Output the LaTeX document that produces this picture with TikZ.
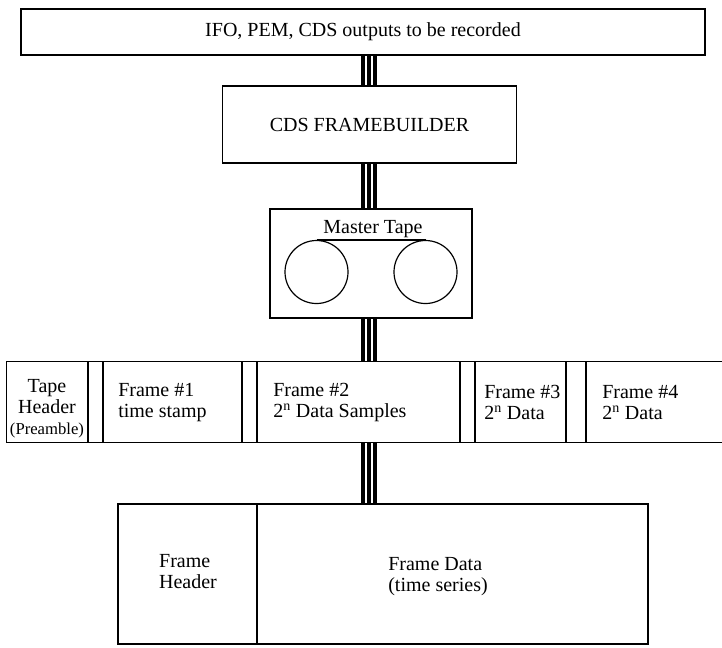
\documentclass[tikz,border=0pt]{standalone}
\usepackage{fontspec}
\setmainfont{Liberation Serif}
\begin{document}
\begin{tikzpicture}[x=0.75pt,y=-0.75pt,
  box/.style={draw, line width=1.1pt, inner sep=0pt},
  wire/.style={line width=2.3pt},
  lbl/.style={inner sep=0pt, font=\fontsize{15}{15.75}\selectfont},
  reel/.style={draw, circle, line width=0.9pt, inner sep=0pt, minimum size=63*0.75pt},
  edge/.style={line width=1.1pt}]
\def\u{0.75pt}
\path[use as bounding box] (0,0) rectangle (722,647);
% top box
\node[box, lbl, minimum width=684*\u, minimum height=46*\u] (top) at (363,32) {IFO, PEM, CDS outputs to be recorded};
% framebuilder
\node[box, lbl, minimum width=294*\u, minimum height=77*\u] (fb) at (369.5,124.5) {CDS FRAMEBUILDER};
% master tape
\node[box, minimum width=202*\u, minimum height=109*\u] (mt) at (371,263.5) {};
\node[lbl] (mtl) at (373,229) {Master Tape};
\node[reel] (r1) at (316.5,272) {};
\node[reel] (r2) at (425.5,272) {};
\draw[line width=0.9pt] (r1.north) -- (r2.north);
% tape strip
\node[inner sep=0pt, minimum width=715*\u, minimum height=80*\u] (strip) at (364.5,402) {};
\draw[edge] (strip.north east) -- (strip.north west) -- (strip.south west) -- (strip.south east);
\foreach \x in {88,103,242,257,460,475,566,586}
  \draw[edge] (\x,0 |- strip.north) -- (\x,0 |- strip.south);
\node[lbl, align=center] (th) at (47,409) {Tape\\Header\\{\fontsize{12.5}{13}\selectfont (Preamble)}};
\node[lbl, align=left, anchor=west] (f1) at (118,402.5) {Frame \#1\\time stamp};
\node[lbl, align=left, anchor=west] (f2) at (273,402.5) {Frame \#2\\2\textsuperscript{n} Data Samples};
\node[lbl, align=left, anchor=west] (f3) at (484,402.5) {Frame \#3\\2\textsuperscript{n} Data};
\node[lbl, align=left, anchor=west] (f4) at (602,402.5) {Frame \#4\\2\textsuperscript{n} Data};
% frame box
\node[box, minimum width=530*\u, minimum height=140*\u] (fr) at (383,574) {};
\draw[edge] (257,0 |- fr.north) -- (257,0 |- fr.south);
\node[lbl, align=left] (fh) at (188,572) {Frame\\Header};
\node[lbl, align=left] (fd) at (438,577) {Frame Data\\(time series)};
% triple-line buses
\coordinate (bus) at (369,0);
\foreach \d in {-6,0,6} {
  \draw[wire] ([xshift=\d*\u]bus |- top.south) -- ([xshift=\d*\u]bus |- fb.north);
  \draw[wire] ([xshift=\d*\u]bus |- fb.south) -- ([xshift=\d*\u]bus |- mt.north);
  \draw[wire] ([xshift=\d*\u]bus |- mt.south) -- ([xshift=\d*\u]bus |- strip.north);
  \draw[wire] ([xshift=\d*\u]bus |- strip.south) -- ([xshift=\d*\u]bus |- fr.north);
}
\end{tikzpicture}
\end{document}
